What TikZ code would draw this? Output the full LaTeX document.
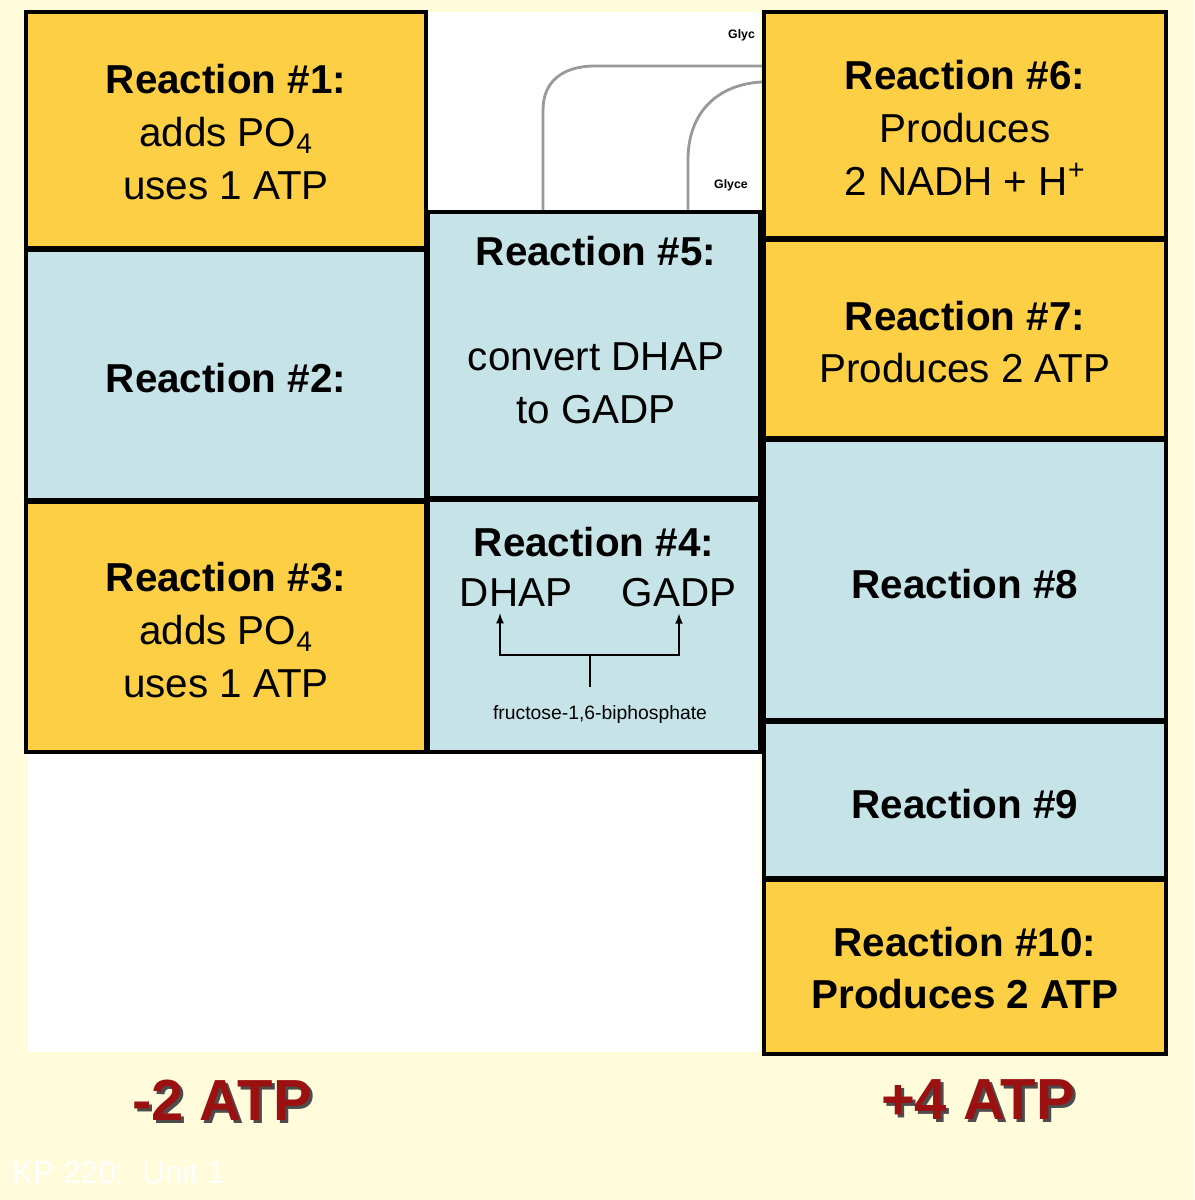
\documentclass[tikz,border=0pt]{standalone}
\usepackage{fontspec}
\setmainfont{Liberation Sans}
\usetikzlibrary{positioning}
\definecolor{cream}{HTML}{FFFBDB}
\definecolor{gold}{HTML}{FDCF45}
\definecolor{paleblue}{HTML}{C6E4E8}
\definecolor{atpred}{HTML}{9B1010}
\tikzset{
  rxn/.style={draw=black, line width=2.8pt},
  big/.style={font=\fontsize{23}{30}\selectfont, align=center},
  tally/.style={font=\fontsize{33}{36}\selectfont\bfseries, text=atpred},
}
\begin{document}
\begin{tikzpicture}[x=0.02cm, y=-0.02cm]
	% Background.
	\fill[cream] (0,0) rectangle (1194,1200);
	\useasboundingbox (0,0) rectangle (1194,1200);
	\fill[white] (28,12) rectangle (760,1052);

	% Pathway sketch behind the boxes.
	\draw[line width=1.6pt, black!40] (543,212) -- (543,110) .. controls (543,82) and (562,66) .. (595,66) -- (762,66);
	\draw[line width=1.6pt, black!40] (688,212) -- (688,160) .. controls (688,110) and (720,84) .. (762,82);
	\node[font=\fontsize{7}{8}\selectfont\bfseries, anchor=west] (glyca) at (722,35) {Glyc};
	\node[font=\fontsize{7}{8}\selectfont\bfseries, anchor=west] (glycb) at (708,185) {Glyce};

	% Left column.
	\draw[rxn, fill=gold] (26,12) rectangle (426,248);
	\node[big] (r1) at (226,132) {\textbf{Reaction \#1:}\\adds PO\textsubscript{4}\\uses 1 ATP};
	\draw[rxn, fill=paleblue] (26,250) rectangle (426,500);
	\node[big] (r2) at (226,378) {\textbf{Reaction \#2:}};
	\draw[rxn, fill=gold] (26,502) rectangle (426,752);
	\node[big] (r3) at (226,630) {\textbf{Reaction \#3:}\\adds PO\textsubscript{4}\\uses 1 ATP};

	% Middle column.
	\draw[rxn, fill=paleblue] (428,212) rectangle (760,498);
	\node[big] (r5) at (596,330) {\textbf{Reaction \#5:}\\[30pt]convert DHAP\\to GADP};
	\draw[rxn, fill=paleblue] (428,500) rectangle (760,752);
	\node[big] (r4) at (594,542) {\textbf{Reaction \#4:}};
	\node[big] (dhap) at (516,593) {DHAP};
	\node[big] (gadp) at (679,593) {GADP};
	\node[font=\fontsize{11}{12}\selectfont] (fbp) at (600,714) {fructose-1,6-biphosphate};
	\coordinate (split) at (590,655);
	\draw[line width=1pt] (fbp.north -| split) ++(0,-12) -- (split);
	\draw[line width=1pt, -latex] (split) -| ([xshift=-16*0.02cm]dhap.south);
	\draw[line width=1pt, -latex] (split) -| (gadp.south);

	% Right column.
	\draw[rxn, fill=gold] (764,12) rectangle (1166,238);
	\node[big] (r6) at (965,128) {\textbf{Reaction \#6:}\\Produces\\2 NADH + H\textsuperscript{+}};
	\draw[rxn, fill=gold] (764,240) rectangle (1166,438);
	\node[big] (r7) at (965,342) {\textbf{Reaction \#7:}\\Produces 2 ATP};
	\draw[rxn, fill=paleblue] (764,440) rectangle (1166,720);
	\node[big] (r8) at (965,584) {\textbf{Reaction \#8}};
	\draw[rxn, fill=paleblue] (764,722) rectangle (1166,878);
	\node[big] (r9) at (965,804) {\textbf{Reaction \#9}};
	\draw[rxn, fill=gold] (764,880) rectangle (1166,1054);
	\node[big] (r10) at (965,968) {\textbf{Reaction \#10:}\\\textbf{Produces 2 ATP}};

	% Totals.
	\node[tally, text=black!70] at (225,1103) {-2 ATP};
	\node[tally] (minus) at (222,1100) {-2 ATP};
	\node[tally, text=black!70] at (981,1103) {+4 ATP};
	\node[tally] (plus) at (978,1100) {+4 ATP};
	\node[font=\fontsize{18}{20}\selectfont, text=white, anchor=west] (unit) at (6,1172) {KP 220:\ \ Unit 1};
\end{tikzpicture}
\end{document}
